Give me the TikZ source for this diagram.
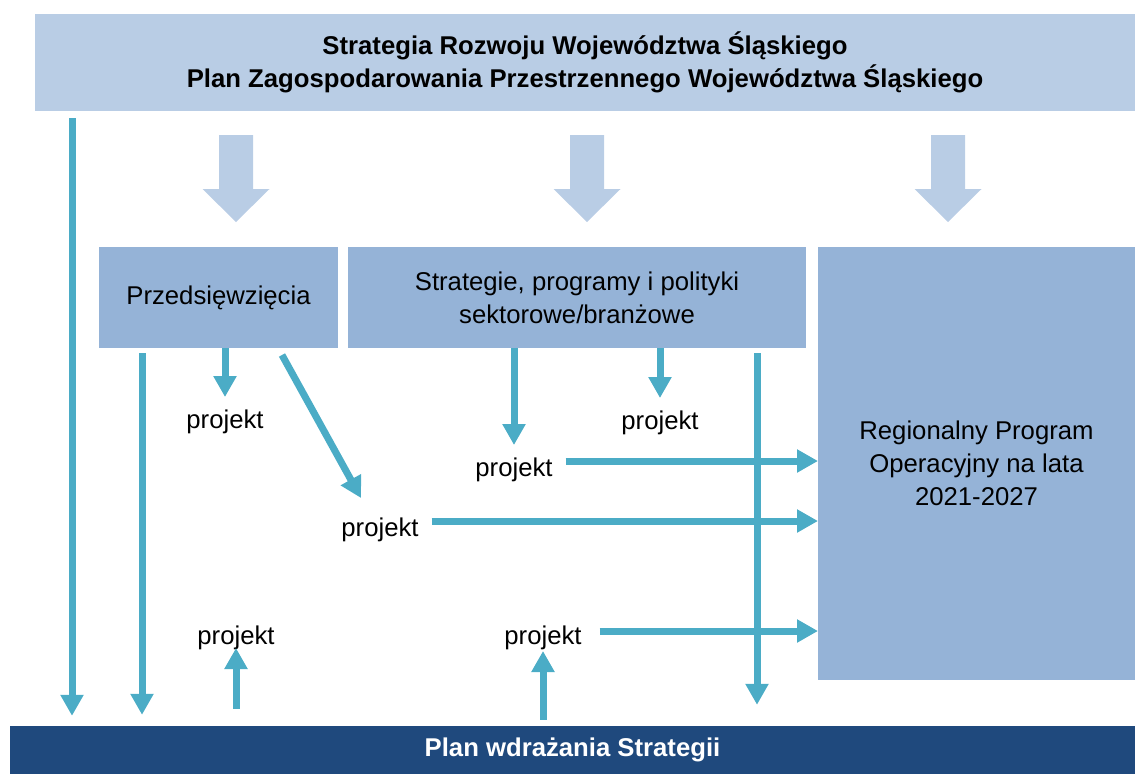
\documentclass[tikz,border=0pt]{standalone}
\usepackage{fontspec}
\setmainfont{Liberation Sans}
\usepackage{xcolor}
\definecolor{jasny}{HTML}{B9CDE5}
\definecolor{sredni}{HTML}{95B3D7}
\definecolor{turkus}{HTML}{4BACC6}
\definecolor{granat}{HTML}{1F497D}
\usepackage{tikz}
\usetikzlibrary{positioning,calc,arrows.meta}

\begin{document}
\begin{tikzpicture}[x=1pt,y=-1pt,font=\fontsize{25.7}{33}\selectfont,
  blok/.style={fill=sredni,align=center,inner sep=0pt,outer sep=0pt},
  proj/.style={inner sep=0pt,outer sep=13pt},
  strz/.style={-{Triangle[width=22pt,length=21pt]},turkus,line width=7pt}]
  \useasboundingbox (0,0) rectangle (1135,774);
  \node[fill=jasny,minimum width=1100pt,minimum height=97pt,align=center,inner sep=0pt,font=\fontsize{25.7}{33}\selectfont\bfseries] (glowny) at (585,62.5) {Strategia Rozwoju Województwa Śląskiego\\Plan Zagospodarowania Przestrzennego Województwa Śląskiego};
  \foreach \x in {236,587,948}
    \fill[jasny] (\x-17,135) -- (\x+17,135) -- (\x+17,189) -- (\x+33.5,189) -- (\x,222) -- (\x-33.5,189) -- (\x-17,189) -- cycle;
  \node[blok,minimum width=239pt,minimum height=101pt] (przed) at (218.5,297.5) {Przedsięwzięcia};
  \node[blok,minimum width=458pt,minimum height=101pt,right=10pt of przed] (strat) {Strategie, programy i polityki\\sektorowe/branżowe};
  \node[blok,minimum width=317pt,minimum height=433pt,anchor=north west] (rpo) at ([xshift=12pt]strat.north east) {Regionalny Program\\Operacyjny na lata\\2021-2027};
  \node[fill=granat,text=white,minimum width=1125pt,minimum height=48pt,inner sep=0pt,font=\fontsize{25.7}{33}\selectfont\bfseries] (plan) at (572.5,750) {Plan wdrażania Strategii};
  \node[proj] (p1) at (225,422) {projekt};
  \node[proj] (p2) at (380,530) {projekt};
  \node[proj] (p3) at (236,638) {projekt};
  \node[proj] (p4) at (514,470) {projekt};
  \node[proj] (p5) at (660,423) {projekt};
  \node[proj] (p6) at (543,638) {projekt};
  \coordinate (k1) at (72,0); \coordinate (k2) at (142,0); \coordinate (k7) at (757,0);
  \coordinate (s2) at ([yshift=9pt]p2.east); \coordinate (s4) at ([yshift=9pt]p4.east);
  \coordinate (s6) at ([xshift=5pt,yshift=7pt]p6.east);
  \draw[strz,shorten <=7pt,shorten >=10pt] (glowny.south -| k1) -- (plan.north -| k1);
  \draw[strz,shorten <=5pt,shorten >=11pt] (przed.south -| k2) -- (plan.north -| k2);
  \draw[strz,shorten <=5pt,shorten >=21pt] (strat.south -| k7) -- (plan.north -| k7);
  \draw[strz] (przed.south -| p1) -- (p1.north);
  \draw[strz] ([xshift=-56pt,yshift=-7pt]przed.south east) -- ([xshift=-19pt,yshift=7pt]p2.north);
  \draw[strz] (strat.south -| p4) -- (p4.north);
  \draw[strz] (strat.south -| p5) -- (p5.north);
  \draw[strz] (s2) -- (s2 -| rpo.west);
  \draw[strz] (s4) -- (s4 -| rpo.west);
  \draw[strz] (s6) -- (s6 -| rpo.west);
  \draw[strz,shorten <=17pt,shorten >=10pt] (plan.north -| p3) -- (p3.center);
  \draw[strz,shorten <=6pt,shorten >=13pt] (plan.north -| p6) -- (p6.center);
\end{tikzpicture}
\end{document}
